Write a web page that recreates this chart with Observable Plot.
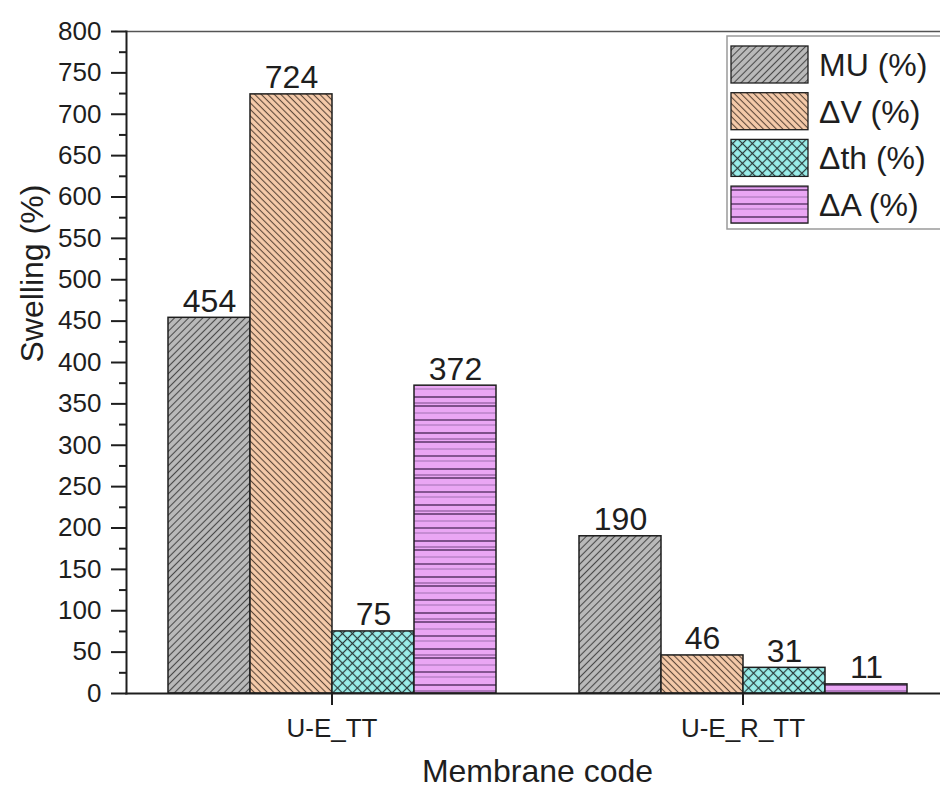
<!DOCTYPE html>
<html>
<head>
<meta charset="utf-8">
<script src="https://cdn.jsdelivr.net/npm/d3@7"></script>
<script src="https://cdn.jsdelivr.net/npm/@observablehq/plot@0.6"></script>
<style>
  html, body { margin: 0; padding: 0; background: #fff; overflow: hidden; }
  #chart svg { display: block; }
</style>
</head>
<body>
<div id="chart"></div>
<script>
// ---- data ----
const groups = ["U-E_TT", "U-E_R_TT"];
const series = ["MU (%)", "ΔV (%)", "Δth (%)", "ΔA (%)"];
const muValues = [454, 190];
const dvValues = [724, 46];
const dthValues = [75, 31];
const daValues = [372, 11];
const yTicks = [0, 50, 100, 150, 200, 250, 300, 350, 400, 450, 500, 550, 600, 650, 700, 750, 800];
const yMinorTicks = [25, 75, 125, 175, 225, 275, 325, 375, 425, 475, 525, 575, 625, 675, 725, 775];
const patternIds = ["pat-mu", "pat-dv", "pat-dth", "pat-da"];

const seriesValues = [muValues, dvValues, dthValues, daValues];
const rows = [];
groups.forEach((g, gi) => {
  series.forEach((s, si) => rows.push({group: g, series: s, value: seriesValues[si][gi]}));
});

const font = "'Liberation Sans', Arial, Helvetica, sans-serif";
const ink = "#1e1e1e";

const svg = Plot.plot({
  width: 940,
  height: 792,
  marginLeft: 125,
  marginRight: -8,
  marginTop: 31,
  marginBottom: 99,
  style: {fontFamily: font, color: ink, background: "#fff", overflow: "visible"},
  fx: {domain: groups, padding: 0, label: null},
  x: {domain: series, paddingInner: 0, paddingOuter: 0.5, axis: null},
  y: {domain: [0, 800], label: null},
  color: {domain: series, range: patternIds.map(id => `url(#${id})`)},
  marks: [
    Plot.barY(rows, {fx: "group", x: "series", y: "value", fill: "series", stroke: ink, strokeWidth: 1.5}),
    Plot.text(rows, {fx: "group", x: "series", y: "value", text: d => String(d.value),
      lineAnchor: "bottom", dy: -6, fontSize: 32, fill: ink}),
    Plot.frame({anchor: "bottom", facet: "super", stroke: ink, strokeWidth: 2}),
    Plot.frame({anchor: "top", facet: "super", stroke: "#555", strokeWidth: 1.5}),
    Plot.frame({anchor: "left", facet: "super", stroke: ink, strokeWidth: 2}),
    Plot.axisY({ticks: yTicks, tickSize: 15, tickPadding: 10, fontSize: 26, label: null, color: ink, strokeWidth: 2}),
    Plot.axisY({ticks: yMinorTicks, tickSize: 7, tickFormat: () => "", label: null, color: ink, strokeWidth: 2}),
    Plot.axisFx({anchor: "bottom", tickSize: 12, tickPadding: 13, fontSize: 26, label: null, color: ink, strokeWidth: 2}),
    Plot.text(["Membrane code"], {frameAnchor: "bottom", dy: 88, fontSize: 32, fill: ink, facet: "super"}),
    Plot.text(["Swelling (%)"], {frameAnchor: "left", dx: -94, rotate: -90, fontSize: 32, fill: ink, facet: "super"})
  ]
});

// ---- fill patterns ----
const defs = d3.select(svg).insert("defs", ":first-child");
function hatch(id, bg, line, size, angle, width, cross) {
  const p = defs.append("pattern").attr("id", id)
    .attr("patternUnits", "userSpaceOnUse")
    .attr("width", size).attr("height", size)
    .attr("patternTransform", `rotate(${angle})`);
  p.append("rect").attr("width", size).attr("height", size).attr("fill", bg);
  p.append("line").attr("x1", size / 2).attr("y1", 0).attr("x2", size / 2).attr("y2", size)
    .attr("stroke", line).attr("stroke-width", width);
  if (cross) {
    p.append("line").attr("x1", 0).attr("y1", size / 2).attr("x2", size).attr("y2", size / 2)
      .attr("stroke", line).attr("stroke-width", width);
  }
}
hatch("pat-mu", "#bababa", "#4a4a4a", 5, 45, 1.1, false);
hatch("pat-dv", "#f6cbaa", "#5a4638", 4.6, -45, 1.1, false);
hatch("pat-dth", "#9aeeea", "#2a3a3a", 7, 45, 1.2, true);
{
  const p = defs.append("pattern").attr("id", "pat-da")
    .attr("patternUnits", "userSpaceOnUse").attr("width", 10).attr("height", 36);
  p.append("rect").attr("width", 10).attr("height", 36).attr("fill", "#eaa6f4");
  [[1, "#4e2a5c", 1.4], [7, "#7a4a8a", 1], [10, "#4e2a5c", 1.4], [17, "#9a6aaa", 0.9],
   [24, "#4e2a5c", 1.3], [29, "#9a6aaa", 0.9]].forEach(([y, c, w]) => {
    p.append("line").attr("x1", 0).attr("x2", 10).attr("y1", y).attr("y2", y)
      .attr("stroke", c).attr("stroke-width", w);
  });
}

// ---- legend (inside the plot area, top right) ----
const lg = d3.select(svg).append("g").attr("font-family", font).attr("text-anchor", "start");
lg.append("rect").attr("x", 727).attr("y", 36).attr("width", 230).attr("height", 193)
  .attr("fill", "#fff").attr("stroke", "#9a9a9a").attr("stroke-width", 1.5);
series.forEach((s, i) => {
  const y = 46 + i * 46.7;
  lg.append("rect").attr("x", 731).attr("y", y).attr("width", 77).attr("height", 37)
    .attr("fill", `url(#${patternIds[i]})`).attr("stroke", ink).attr("stroke-width", 1.3);
  lg.append("text").attr("x", 819).attr("y", y + 18.5).attr("dy", "0.36em")
    .attr("font-size", 32).attr("fill", ink).text(s);
});

document.getElementById("chart").append(svg);
</script>
</body>
</html>
